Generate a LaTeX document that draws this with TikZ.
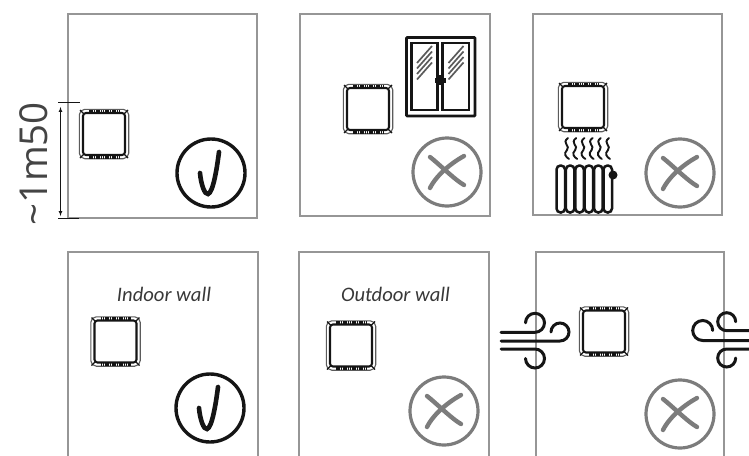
\documentclass[tikz,border=0pt]{standalone}
\usepackage{fontspec}
\setmainfont{Carlito}
\newfontfamily\dimfont{Open Sans}
\definecolor{wallgray}{HTML}{969696}
\definecolor{markgray}{HTML}{7C7C7C}
\definecolor{ink}{HTML}{151515}
\tikzset{
  x=1pt,y=-1pt,
  wall/.style={draw=wallgray,line width=1.7pt},
  lbl/.style={font=\itshape\fontsize{20.6}{22}\selectfont,text=ink!85!white,inner sep=0pt},
  thin ink/.style={draw=ink,line width=1pt},
  windline/.style={draw=ink,line width=3pt,line cap=round},
  pics/sensor/.style={code={
    \draw[ink!70!white,line width=1.1pt,rounded corners=5.5pt] (-24.7,-24.7) rectangle (24.7,24.7);
    \draw[ink,line width=2.1pt,rounded corners=3pt] (-21,-21) rectangle (21,21);
    \draw[ink,line width=3pt,dash pattern=on 1.6pt off 0.7pt] (-15,-23) -- (15,-23);
    \draw[ink,line width=3pt,dash pattern=on 1.6pt off 0.7pt] (-15,23) -- (15,23);
    \foreach \sx/\sy in {-1/-1,1/-1,-1/1,1/1}{
      \draw[ink,line width=1.3pt] (\sx*20,\sy*20) -- (\sx*24,\sy*24);
    }
  }},
  pics/okmark/.style={code={
    \draw[ink,line width=3.4pt] (0,0) circle[radius=34];
    \draw[ink,line width=4.6pt,line cap=round] (-11,0) .. controls (-10,12) and (-6,22) .. (-3,21) .. controls (2,20) and (6,-5) .. (8,-21);
  }},
  pics/nomark/.style={code={
    \draw[markgray,line width=3.2pt] (0,0) circle[radius=34];
    \draw[markgray,line width=4.4pt,line cap=round] (-17,-15) .. controls (-8,-8) and (8,8) .. (17,13);
    \draw[markgray,line width=4.4pt,line cap=round] (17,-16) .. controls (6,-10) and (-10,2) .. (-17,16);
  }},
}
\begin{document}
\begin{tikzpicture}
\useasboundingbox (0,0) rectangle (749,455);
% walls
\draw[wall] (68,14) rectangle (257,218);
\draw[wall] (300,14) rectangle (490,216);
\draw[wall] (533,14) rectangle (722,215);
\draw[wall] (68,456) -- (68,252) -- (258,252) -- (258,456);
\draw[wall] (299,456) -- (299,252) -- (489,252) -- (489,456);
\draw[wall] (536,456) -- (536,252) -- (724,252) -- (724,456);
% sensors
\pic at (104,134) {sensor};
\pic at (368,109) {sensor};
\pic at (583,107) {sensor};
\pic at (115.5,341.5) {sensor};
\pic at (351,345.5) {sensor};
\pic at (604,331.5) {sensor};
% marks
\pic at (211,173) {okmark};
\pic at (447,172) {nomark};
\pic at (680,173) {nomark};
\pic at (210,408) {okmark};
\pic at (444,411) {nomark};
\pic at (680,414) {nomark};
% dimension
\draw[thin ink] (58,102) -- (80,102);
\draw[thin ink] (58,218) -- (79,218);
\draw[ink,line width=0.7pt,<->,>=latex] (60.5,107) -- (60.5,216);
\node[rotate=90,inner sep=0pt,text=ink!80!white,font=\fontsize{38.5}{42}\selectfont] (dim) at (34,164) {\dimfont\char"7E 1m50};
% window
\draw[ink,line width=2.8pt,rounded corners=0.8pt] (406.5,37.5) rectangle (475,116);
\draw[ink,line width=2.2pt] (411.5,43) rectangle (437.5,110);
\draw[ink,line width=2.2pt] (442.5,43) rectangle (469,110);
\foreach \dx in {0,31.5}{
  \foreach \dy in {0,5.5,11,16.5}{
    \draw[ink!70!white,line width=1.7pt] (417+\dx,63+\dy) -- (432+\dx,46+\dy);
  }
}
\fill[ink] (434.5,77.5) rectangle (446,82.5);
\fill[ink] (437.5,75) rectangle (442.5,85);
% radiator
\foreach \i in {0,...,5}{
  \draw[ink,line width=2.5pt,rounded corners=4pt] (556.5+\i*9.4,165.5) rectangle (565+\i*9.4,212.5);
}
\fill[ink] (613,175) circle[radius=4.5];
\foreach \i in {0,...,5}{
  \draw[ink,line width=1.9pt,line cap=round] (568+\i*8.2,138) .. controls (561+\i*8.2,143) and (571+\i*8.2,146) .. (567+\i*8.2,150) .. controls (563+\i*8.2,154) and (566+\i*8.2,157) .. (569+\i*8.2,159);
}
% labels
\node[lbl] (indoor) at (164,294) {Indoor wall};
\node[lbl] (outdoor) at (395.5,294) {Outdoor wall};
% wind left
\draw[windline] (501,332.3) -- (535,332.3) arc[start angle=90,end angle=-180,x radius=9.5,y radius=9.5];
\draw[windline] (501,341) -- (560,341) arc[start angle=90,end angle=-180,x radius=9,y radius=9];
\draw[windline] (501,349) -- (535,349) arc[start angle=-90,end angle=180,x radius=9.5,y radius=9.5];
% wind right
\draw[windline] (752,340.5) -- (702.7,340.5) arc[start angle=90,end angle=360,x radius=10,y radius=10];
\draw[windline] (752,330.7) -- (726.7,330.7) arc[start angle=90,end angle=360,x radius=9,y radius=9];
\draw[windline] (752,349) -- (726.7,349) arc[start angle=-90,end angle=-360,x radius=9,y radius=9];
\end{tikzpicture}
\end{document}
